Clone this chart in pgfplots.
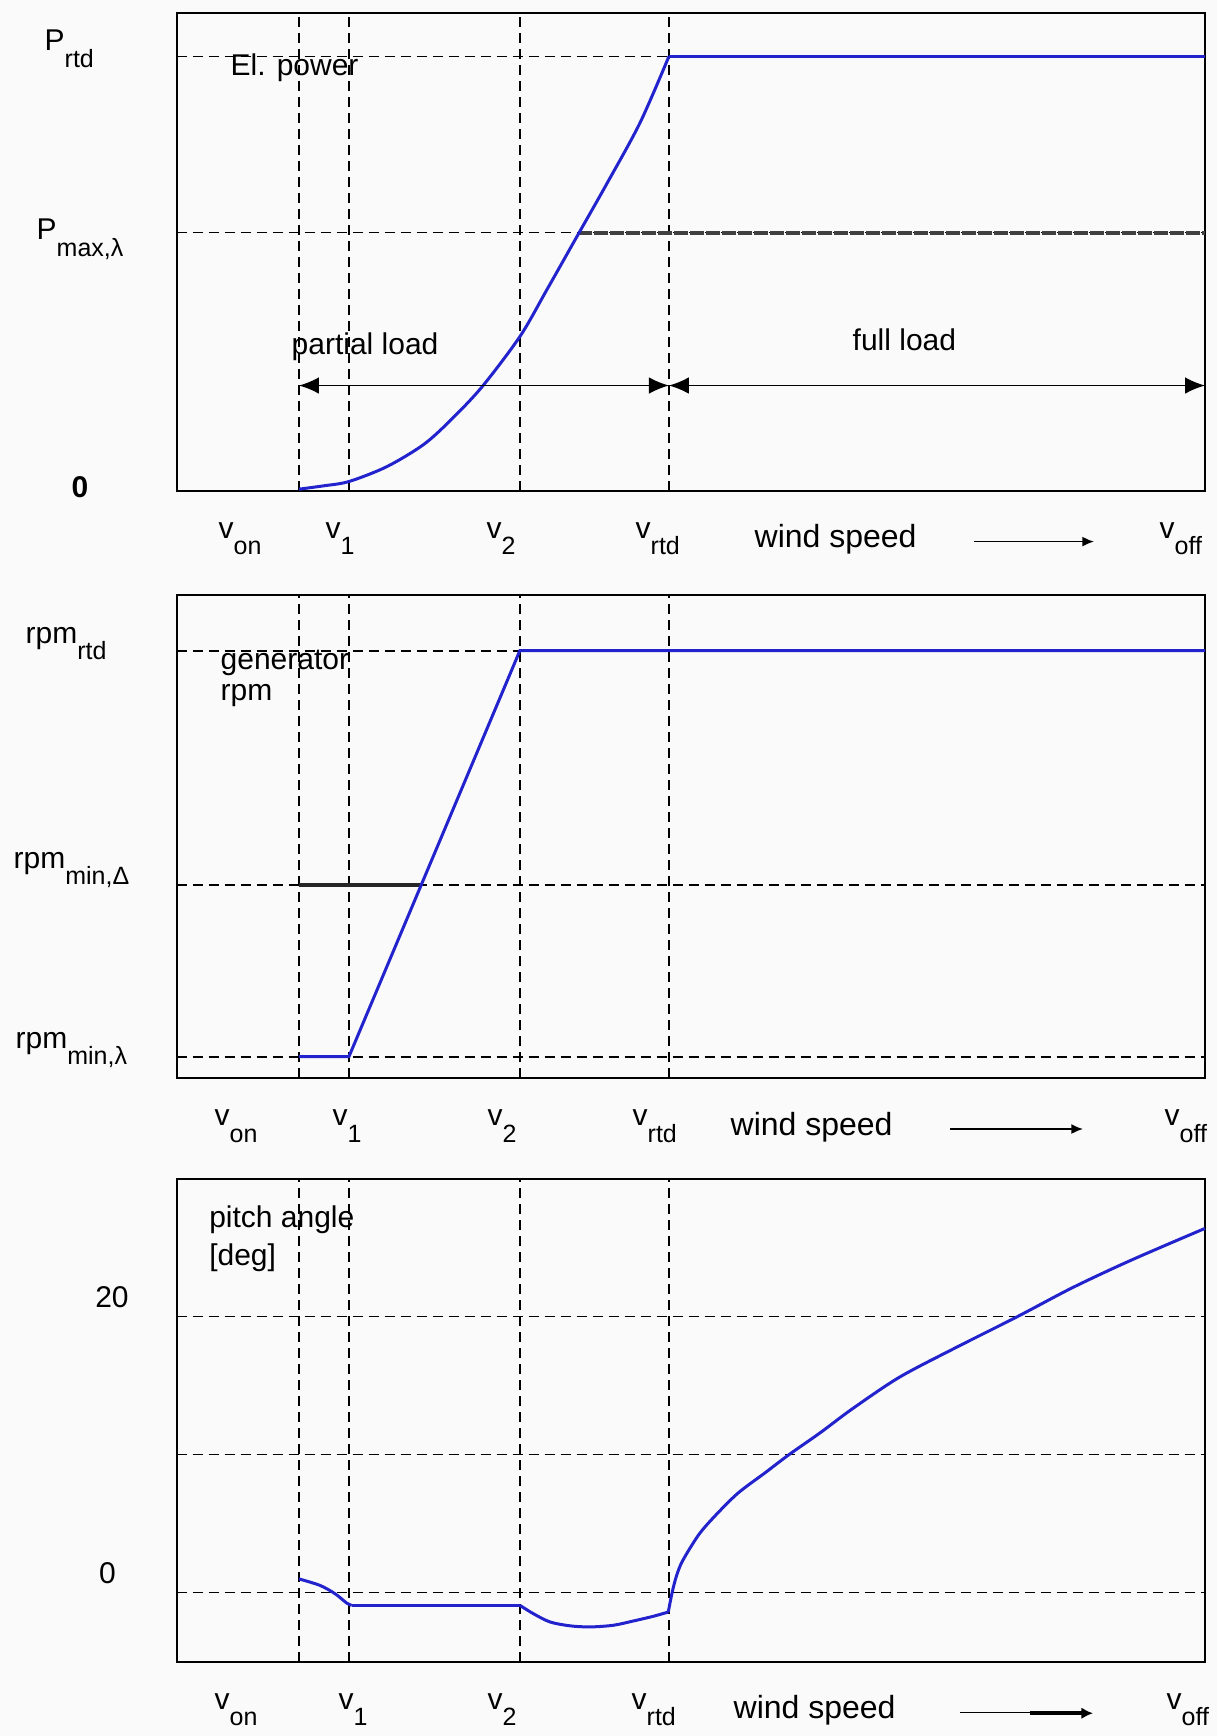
\documentclass[border=0pt]{standalone}
\usepackage{fontspec}
\setmainfont{Liberation Sans}
\usepackage{pgfplots}
\pgfplotsset{compat=1.18}
\usetikzlibrary{arrows.meta}
\definecolor{blueline}{RGB}{35,35,205}
\definecolor{bg}{RGB}{250,250,250}
\newcommand{\lab}[2]{#1\raisebox{-5pt}{\fontsize{7.5}{8}\selectfont #2}}
\newcommand{\ws}{{\fontsize{9.6}{11}\selectfont wind speed}}
\begin{document}
\begin{tikzpicture}[font=\fontsize{9}{10.8}\selectfont]
\fill[bg] (0,0) rectangle (365.1pt,-520.8pt);
\pgfplotsset{
  panel/.style={
    scale only axis, width=308.52pt, xmin=0, xmax=100, anchor=north west,
    axis line style={line width=0.6pt},
    xtick={11.9,16.76,33.38,47.87}, xticklabels={}, yticklabels={},
    xtick style={draw=none}, ytick style={draw=none},
    grid=major, major grid style={black, line width=0.45pt, dash pattern=on 3pt off 1.8pt},
    clip=false,
  },
  bl/.style={blueline, line width=0.9pt, no marks},
}
% ---------- panel 1: electrical power
\begin{axis}[panel, at={(52.98pt,-3.9pt)}, height=143.28pt, ymin=0, ymax=100, ytick={54,90.9}]
\addplot[black!75, line width=1.1pt, dash pattern=on 4pt off 0.8pt] coordinates {(39.06,54) (100,54)};
\addplot[bl, smooth] coordinates {(11.9,0.3) (14.3,1.0) (16.76,1.9) (20.43,5.0) (23.99,9.6) (26.58,14.6) (29.67,21.65) (33.38,32.25) (35.99,42.0) (39.06,53.7) (41.82,64.2) (45.06,77.0) (47.87,90.9)};
\addplot[bl] coordinates {(47.87,90.9) (100,90.9)};
\draw[line width=0.5pt, {Latex[length=6pt,width=5pt]}-{Latex[length=6pt,width=5pt]}] (axis cs:11.9,22) -- (axis cs:47.87,22);
\draw[line width=0.5pt, {Latex[length=6pt,width=5pt]}-{Latex[length=6pt,width=5pt]}] (axis cs:47.87,22) -- (axis cs:100,22);
\end{axis}
% ---------- panel 2: generator rpm
\begin{axis}[panel, at={(52.98pt,-178.5pt)}, height=145pt, ymin=0, ymax=100, ytick={4.5,40,88.5},
  major grid style={black, line width=0.6pt, dash pattern=on 3pt off 1.8pt}]
\addplot[black!85, line width=1.1pt] coordinates {(11.9,40) (23.78,40)};
\addplot[bl] coordinates {(11.9,4.5) (16.76,4.5) (33.38,88.5) (100,88.5)};
\end{axis}
% ---------- panel 3: pitch angle
\begin{axis}[panel, at={(52.98pt,-353.61pt)}, height=144.9pt, ymin=-5, ymax=30, ytick={0,10,20}]
\addplot[bl, smooth] coordinates {(11.9,1.0) (13.94,0.53) (15.4,-0.07) (16.54,-0.75) (17.03,-0.92)};
\addplot[bl] coordinates {(17.03,-0.92) (33.39,-0.92)};
\addplot[bl, smooth] coordinates {(33.39,-0.92) (34.69,-1.52) (36.31,-2.12) (38.25,-2.4) (40.2,-2.48) (42.46,-2.36) (44.41,-2.05) (46.35,-1.71) (47.81,-1.4)};
\addplot[bl, smooth] coordinates {(47.81,-1.4) (48.18,0.0) (48.6,1.2) (49.2,2.31) (50.74,4.17) (52.27,5.5) (54.56,7.2) (57.24,8.7) (59.54,10) (62.6,11.6) (65.66,13.3) (70.25,15.6) (75.61,17.7) (81.74,20) (87.1,22.1) (92.83,24.1) (100,26.4)};
\end{axis}
% ---------- labels (pixel coordinates)
\begin{scope}[x=0.3pt, y=-0.3pt]
% panel 1
\node[anchor=base west, inner sep=0] at (44,51) {\lab{P}{rtd}};
\node[anchor=base west, inner sep=0] at (36,240) {\lab{P}{max,λ}};
\node[anchor=base west, inner sep=0] at (71,497) {\bfseries 0};
\node[anchor=base west, inner sep=0] at (230,76) {El. power};
\node[anchor=base west, inner sep=0] at (291,355) {partial load};
\node[anchor=base west, inner sep=0] at (852,351) {full load};
\node[anchor=base west, inner sep=0] at (218,538) {\lab{v}{on}};
\node[anchor=base west, inner sep=0] at (325,538) {\lab{v}{1}};
\node[anchor=base west, inner sep=0] at (486,538) {\lab{v}{2}};
\node[anchor=base west, inner sep=0] at (635,538) {\lab{v}{rtd}};
\node[anchor=base west, inner sep=0] at (754,547) {\ws};
\draw[line width=0.5pt, -{Latex[length=3.5pt,width=3pt]}] (974,541.6) -- (1094,541.6);
\node[anchor=base west, inner sep=0] at (1159,538) {\lab{v}{off}};
% panel 2
\node[anchor=base west, inner sep=0] at (25,643) {\lab{rpm}{rtd}};
\node[anchor=base west, inner sep=0] at (13,868) {\lab{rpm}{min,Δ}};
\node[anchor=base west, inner sep=0] at (15,1048) {\lab{rpm}{min,λ}};
\node[anchor=base west, inner sep=0] at (220,669.3) {generator};
\node[anchor=base west, inner sep=0] at (220,700.9) {rpm};
\node[anchor=base west, inner sep=0] at (214,1125.6) {\lab{v}{on}};
\node[anchor=base west, inner sep=0] at (332,1125.6) {\lab{v}{1}};
\node[anchor=base west, inner sep=0] at (487,1125.6) {\lab{v}{2}};
\node[anchor=base west, inner sep=0] at (632,1125.6) {\lab{v}{rtd}};
\node[anchor=base west, inner sep=0] at (730,1135) {\ws};
\draw[line width=0.5pt, -{Latex[length=3.5pt,width=3pt]}] (950,1129) -- (1083,1129);
\node[anchor=base west, inner sep=0] at (1164,1125.6) {\lab{v}{off}};
% panel 3
\node[inner sep=0] at (112,1296.7) {20};
\node[inner sep=0] at (107.5,1573) {0};
\node[anchor=base west, inner sep=0] at (208.6,1227) {pitch angle};
\node[anchor=base west, inner sep=0] at (208.6,1265.5) {[deg]};
\node[anchor=base west, inner sep=0] at (214,1709) {\lab{v}{on}};
\node[anchor=base west, inner sep=0] at (338,1709) {\lab{v}{1}};
\node[anchor=base west, inner sep=0] at (487,1709) {\lab{v}{2}};
\node[anchor=base west, inner sep=0] at (631,1709) {\lab{v}{rtd}};
\node[anchor=base west, inner sep=0] at (733,1718) {\ws};
\draw[line width=0.5pt] (960,1712.6) -- (1030,1712.6);
\draw[line width=1.2pt, -{Latex[length=3.5pt,width=3.5pt]}] (1030,1713.2) -- (1093,1713.2);
\node[anchor=base west, inner sep=0] at (1166,1709) {\lab{v}{off}};
\end{scope}
\end{tikzpicture}
\end{document}
